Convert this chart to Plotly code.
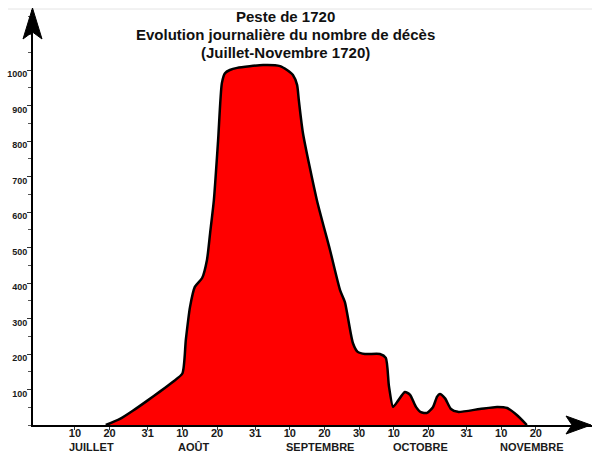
import plotly.graph_objects as go

# Day number counted from 1 July 1720 (day 31 = 31 July, day 41 = 10 Aug, ...)
days = [18.9, 23.0, 26.7, 30.8, 34.5, 38.3, 41.0, 42.0, 43.2, 44.6, 46.7, 48.1, 49.0, 50.1, 51.3, 52.4,
        53.3, 54.7, 56.8, 64.3, 69.2, 71.2, 72.9, 74.1, 74.6, 75.8, 79.8, 83.6, 86.5, 87.9,
        90.2, 91.6, 93.7, 98.0, 99.7, 100.6, 101.8, 103.2, 105.2, 106.7, 108.4, 109.8, 111.6,
        113.3, 114.5, 115.3, 116.8, 118.5, 120.5, 126.8, 131.8, 134.7, 137.5, 140.4]
deaths = [0, 17, 40, 68, 94, 122, 145, 240, 332, 389, 414, 465, 540, 634, 800, 963,
          991, 1000, 1006, 1014, 1011, 1000, 986, 958, 915, 822, 634, 493, 380, 346,
          231, 206, 200, 200, 189, 110, 51, 68, 93, 85, 51, 36, 34,
          50, 80, 87, 75, 45, 37, 45, 51, 48, 28, 0]

tick_days = [10, 20, 31, 41, 51, 62, 72, 82, 92, 102, 112, 123, 133, 143]
tick_labels = ["10", "20", "31", "10", "20", "31", "10", "20", "30", "10", "20", "31", "10", "20"]
y_ticks = [100, 200, 300, 400, 500, 600, 700, 800, 900, 1000]
months = ["JUILLET", "AOÛT", "SEPTEMBRE", "OCTOBRE", "NOVEMBRE"]
month_pos = [14.9, 44.1, 80.7, 109.6, 141.9]
title_lines = ["Peste de 1720", "Evolution journalière du nombre de décès", "(Juillet-Novembre 1720)"]

W, H = 592, 452
L, R, T, B = 33, 0, 10, 27
PW, PH = W - L - R, H - T - B

def px(x):
    return (x - L) / PW

def py(y):
    return (H - B - y) / PH

FONT = "Liberation Sans, Arial, sans-serif"

fig = go.Figure()
fig.add_trace(go.Scatter(
    x=days, y=deaths, mode="lines", fill="tozeroy",
    fillcolor="#ff0000",
    line=dict(color="black", width=2.5, shape="spline", smoothing=0.6),
    hoverinfo="skip", showlegend=False,
))

fig.update_layout(
    width=W, height=H,
    margin=dict(l=L, r=R, t=T, b=B, autoexpand=False),
    paper_bgcolor="white", plot_bgcolor="white",
    showlegend=False,
    xaxis=dict(
        range=[-2.1, 159.2], showgrid=False, zeroline=False, automargin=False,
        showline=True, linecolor="black", linewidth=2,
        tickmode="array", tickvals=tick_days, ticktext=tick_labels,
        ticks="outside", ticklen=3, tickwidth=1, tickcolor="#333",
        tickfont=dict(family=FONT, size=11, color="#1a1a1a", weight="bold"),
        ticklabelstandoff=-6,
    ),
    yaxis=dict(
        range=[0, 1169], showgrid=False, zeroline=False, automargin=False,
        showline=True, linecolor="black", linewidth=2,
        tickmode="array", tickvals=y_ticks,
        ticks="outside", ticklen=4, tickwidth=1, tickcolor="#333",
        tickfont=dict(family=FONT, size=9, color="#1a1a1a", weight="bold"),
        ticklabelstandoff=-2, ticklabelshift=4,
        minor=dict(dtick=50, tick0=0, ticks="outside", ticklen=3, tickwidth=1, tickcolor="#555"),
    ),
)

# month names under the day ticks
for m, d in zip(months, month_pos):
    fig.add_annotation(x=d, xref="x", y=py(447), yref="paper", text=m, showarrow=False,
                       font=dict(family=FONT, size=11, color="#1a1a1a", weight="bold"),
                       xanchor="center", yanchor="middle")

# title (three lines)
for i, t in enumerate(title_lines):
    fig.add_annotation(x=px(285), xref="paper", y=py(17 + 18 * i), yref="paper", text=t,
                       showarrow=False, xanchor="center", yanchor="middle",
                       font=dict(family=FONT, size=15, color="#111", weight="bold"))

# faint top rule
fig.add_shape(type="line", xref="paper", yref="paper", x0=px(8), x1=px(592), y0=py(9), y1=py(9),
              line=dict(color="#e4e4e4", width=1))

# arrow heads
y_arrow = f"M {px(32.5)} {py(8)} L {px(23)} {py(39)} L {px(32.5)} {py(32)} L {px(42)} {py(39)} Z"
fig.add_shape(type="path", xref="paper", yref="paper", path=y_arrow,
              fillcolor="black", line=dict(color="black", width=1))
x_arrow = f"M {px(591)} {py(425)} L {px(566)} {py(416)} L {px(572)} {py(425)} L {px(566)} {py(434)} Z"
fig.add_shape(type="path", xref="paper", yref="paper", path=x_arrow,
              fillcolor="black", line=dict(color="black", width=1))

fig.write_html("out.html", config={"displayModeBar": False, "staticPlot": True},
               post_script="document.body.style.margin='0px';document.body.style.overflow='hidden';")
